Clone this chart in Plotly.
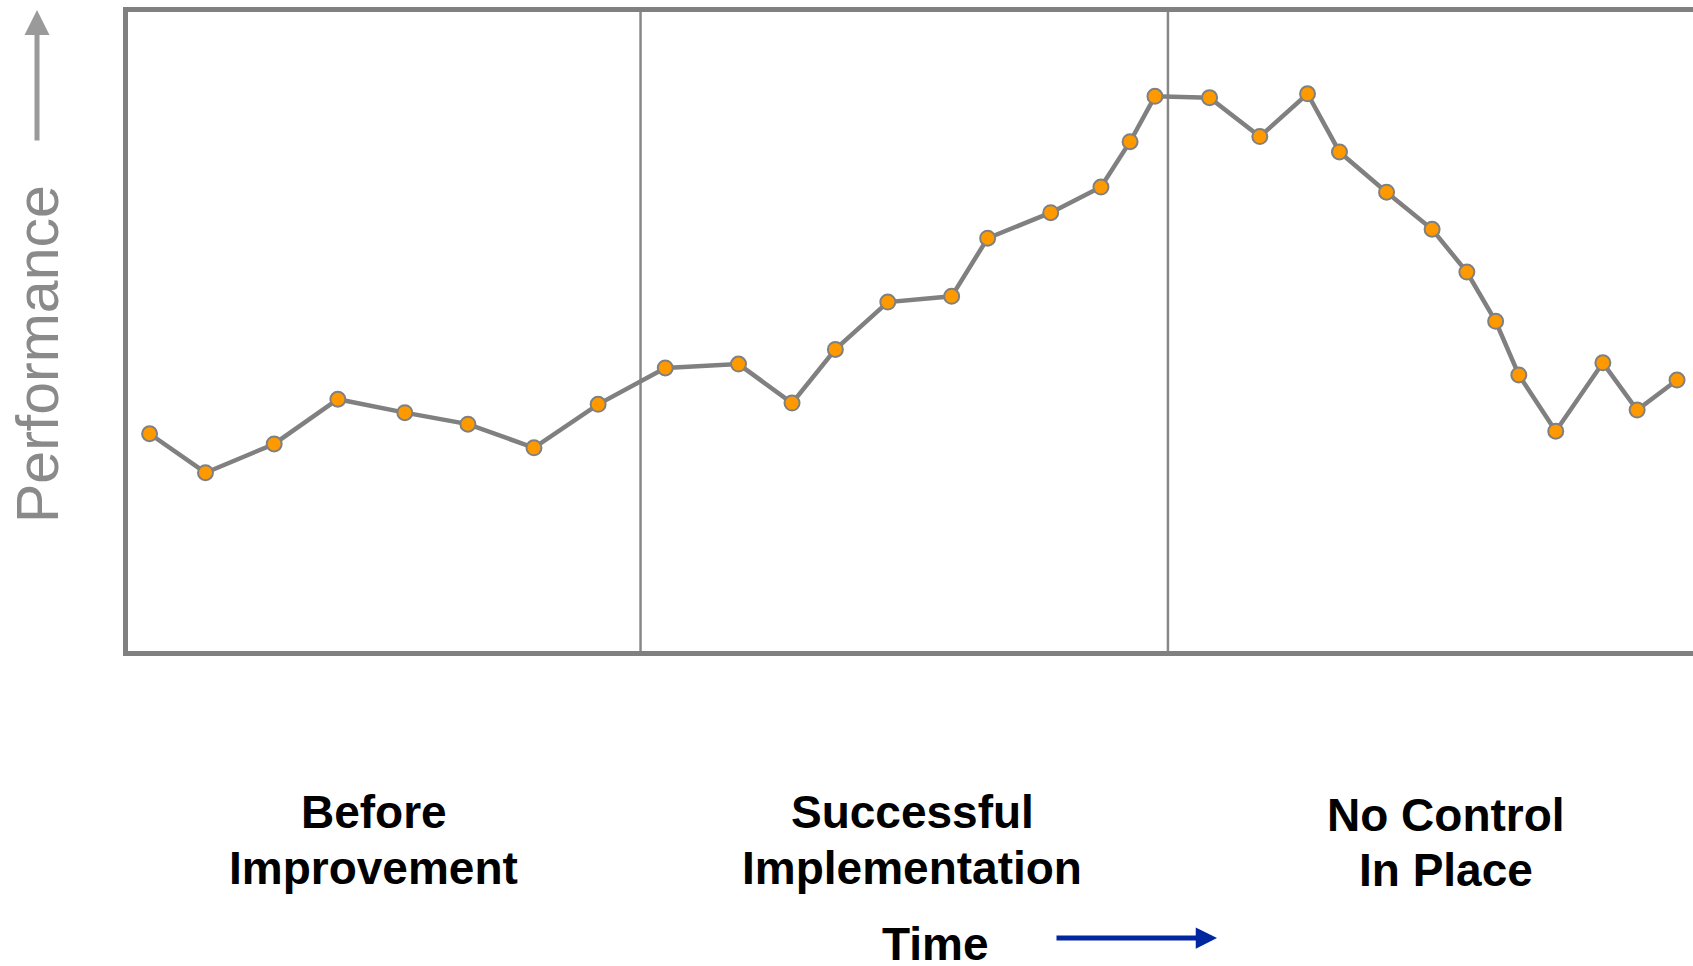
import plotly.graph_objects as go

# ---- data (time in arbitrary units, performance in arbitrary units) ----
time = [1.38, 4.95, 9.34, 13.41, 17.69, 21.72, 25.94, 30.04, 34.33, 39.01,
        42.43, 45.20, 48.55, 52.63, 54.93, 58.96, 62.17, 64.03, 65.62, 69.11,
        72.32, 75.37, 77.41, 80.42, 83.33, 85.55, 87.39, 88.87, 91.23, 94.24,
        96.43, 98.98]
performance = [34.0, 27.9, 32.4, 39.4, 37.3, 35.5, 31.8, 38.6, 44.3, 44.9,
               38.8, 47.2, 54.6, 55.5, 64.6, 68.6, 72.6, 79.7, 86.8, 86.6,
               80.5, 87.2, 78.1, 71.8, 66.0, 59.3, 51.6, 43.2, 34.4, 45.1,
               37.7, 42.4]
phase_boundaries = [32.75, 66.45]
phase_labels = [["Before", "Improvement"],
                ["Successful", "Implementation"],
                ["No Control", "In Place"]]
phase_centers = [15.69, 50.1, 84.2]

W, H = 1693, 966
ML, MT, MB, MR = 128, 12, 315, 0
PW, PH = W - ML - MR, H - MT - MB


def px(xp):
    return (xp - ML) / PW


def py(yp):
    return (H - MB - yp) / PH


fig = go.Figure()
fig.add_trace(go.Scatter(
    x=time, y=performance, mode="lines+markers",
    line=dict(color="#808080", width=4.5),
    marker=dict(size=15, color="#FF9900", line=dict(color="#808080", width=2)),
    showlegend=False, hoverinfo="skip"))

for b in phase_boundaries:
    fig.add_shape(type="line", xref="x", yref="paper", x0=b, x1=b, y0=0, y1=1,
                  line=dict(color="#888888", width=2.5), layer="below")

font_lbl = dict(family="Liberation Sans, Arial, sans-serif", size=46, color="black")
line_y = [[812, 868], [812, 868], [815, 870]]
for lbl, cx, ys in zip(phase_labels, phase_centers, line_y):
    for txt, yy in zip(lbl, ys):
        fig.add_annotation(text="<b>%s</b>" % txt, x=cx, xref="x",
                           y=py(yy), yref="paper", yanchor="middle",
                           showarrow=False, font=font_lbl)

fig.add_annotation(text="<b>Time</b>", x=px(936), xref="paper", y=py(944),
                   yref="paper", yanchor="middle", showarrow=False, font=font_lbl)

# time arrow
fig.add_annotation(x=px(1217), y=py(938), xref="paper", yref="paper",
                   ax=-162, ay=0, axref="pixel", ayref="pixel",
                   text="", showarrow=True, arrowhead=2, arrowsize=0.85,
                   arrowwidth=5, arrowcolor="#0026A0")

# performance arrow
fig.add_annotation(x=px(37), y=py(10), xref="paper", yref="paper",
                   ax=0, ay=132, axref="pixel", ayref="pixel",
                   text="", showarrow=True, arrowhead=2, arrowsize=1.0,
                   arrowwidth=5, arrowcolor="#9A9A9A")

fig.add_annotation(text="Performance", x=px(38), y=py(354), xref="paper",
                   yref="paper", textangle=-90, showarrow=False,
                   xanchor="center", yanchor="middle",
                   font=dict(family="Liberation Sans, Arial, sans-serif",
                             size=59, color="#8A8A8A"))

fig.update_xaxes(range=[0, 100], showgrid=False, zeroline=False,
                 showticklabels=False, ticks="", showline=True,
                 linecolor="#808080", linewidth=5, mirror=True)
fig.update_yaxes(range=[0, 100], showgrid=False, zeroline=False,
                 showticklabels=False, ticks="", showline=True,
                 linecolor="#808080", linewidth=5, mirror=False)

fig.update_layout(width=W, height=H, margin=dict(l=ML, r=MR, t=MT, b=MB),
                  plot_bgcolor="white", paper_bgcolor="white")

fig.write_html("out.html")
